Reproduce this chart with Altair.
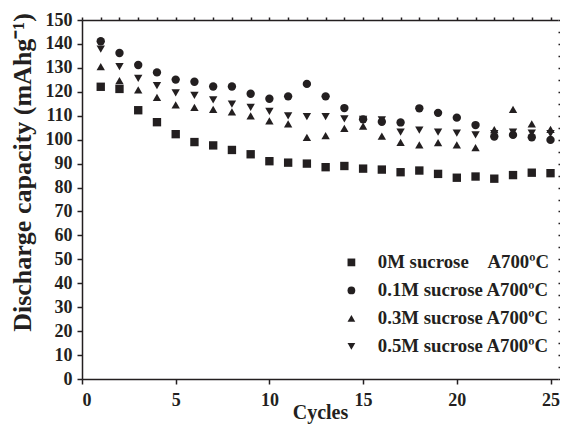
import altair as alt
import pandas as pd

cycles = list(range(1, 26))
series_names = [
    "0M sucrose \u00a0\u00a0\u00a0A700\u00baC",
    "0.1M sucrose A700\u00baC",
    "0.3M sucrose A700\u00baC",
    "0.5M sucrose A700\u00baC",
]
s0 = [122.1, 121.2, 112.3, 107.3, 102.3, 99.0, 97.6, 95.7, 93.9, 91.0, 90.4, 90.0, 88.5,
      89.0, 87.9, 87.5, 86.4, 87.1, 85.7, 84.1, 84.6, 83.7, 85.2, 86.2, 86.0]
s01 = [141.1, 136.2, 131.2, 128.1, 125.1, 124.2, 122.2, 122.2, 119.2, 117.1, 118.1, 123.3, 118.1,
       113.2, 108.5, 107.5, 107.2, 113.1, 111.2, 109.2, 106.1, 101.3, 102.0, 101.0, 99.9]
s03 = [130.5, 124.7, 120.8, 117.7, 114.5, 113.5, 112.7, 111.6, 109.9, 107.9, 106.6, 101.0, 101.7,
       104.7, 105.7, 101.5, 98.9, 97.8, 98.8, 97.8, 96.7, 104.2, 112.7, 106.6, 104.3]
s05 = [137.8, 130.5, 125.6, 122.6, 119.6, 118.5, 116.6, 114.8, 113.5, 111.8, 109.9, 109.6, 109.6,
       108.7, 108.5, 108.3, 103.2, 104.0, 103.1, 102.7, 102.0, 102.5, 103.2, 102.7, 102.5]
shapes = ["square", "circle", "triangle-up", "triangle-down"]

x_major = [0, 5, 10, 15, 20, 25]
x_minor = list(range(0, 26))
y_major = list(range(0, 151, 10))
y_minor = list(range(0, 151, 5))

rows = []
for name, vals in zip(series_names, [s0, s01, s03, s05]):
    for c, v in zip(cycles, vals):
        rows.append({"cycle": c, "cap": v, "series": name})
df = pd.DataFrame(rows)

INK = "#231f20"
FONT = "Liberation Serif"
LINE = dict(domainColor=INK, domainWidth=1.5, tickColor=INK, tickWidth=1.5, grid=False)

xscale = alt.Scale(domain=[0, 25.4], nice=False, zero=False)
yscale = alt.Scale(domain=[0, 150], nice=False)

points = alt.Chart(df).mark_point(filled=True, color=INK, opacity=1, size=70).encode(
    x=alt.X(
        "cycle:Q", scale=xscale,
        axis=alt.Axis(
            values=x_major, ticks=True, tickSize=5, domain=True,
            labelBaseline="alphabetic", labelPadding=21,
            title="Cycles", titleY=39, titleBaseline="alphabetic",
            **LINE,
        ),
    ),
    y=alt.Y(
        "cap:Q", scale=yscale,
        axis=alt.Axis(
            values=y_major, ticks=True, tickSize=5, domain=True, labelPadding=5,
            title="Discharge capacity (mAhg\u207b\u00b9)",
            titleX=-60, titleY=152, titleBaseline="middle", titleAngle=-90,
            **LINE,
        ),
    ),
    shape=alt.Shape(
        "series:N",
        scale=alt.Scale(domain=series_names, range=shapes),
        legend=alt.Legend(
            title=None, orient="none", legendX=260, legendY=233,
            padding=0, rowPadding=8, labelOffset=17,
            symbolSize=60, symbolFillColor=INK, symbolStrokeColor=INK,
            labelFont=FONT, labelFontSize=18.8, labelFontWeight="bold",
            labelColor=INK, labelLimit=400,
        ),
    ),
)

minor = alt.Chart(df).mark_point(opacity=0).encode(
    x=alt.X("cycle:Q", scale=xscale,
            axis=alt.Axis(values=x_minor, ticks=True, tickSize=3, labels=False, domain=False,
                          title=None, **LINE)),
    y=alt.Y("cap:Q", scale=yscale,
            axis=alt.Axis(values=y_minor, ticks=True, tickSize=3, labels=False, domain=False,
                          title=None, **LINE)),
)

top = alt.Chart(df).mark_point(opacity=0).encode(
    x=alt.X("cycle:Q", scale=xscale,
            axis=alt.Axis(orient="top", labels=False, ticks=False, title=None,
                          domain=True, **LINE)),
    y=alt.Y("cap:Q", scale=yscale, axis=None),
)

chart = alt.layer(points, minor, top).resolve_axis(x="independent", y="independent").properties(
    width=476, height=359,
    autosize=alt.AutoSizeParams(type="none"),
    padding={"left": 74, "top": 12, "right": 2, "bottom": 50},
).configure_view(stroke=None).configure_axis(
    labelColor=INK, titleColor=INK,
    labelFont=FONT, titleFont=FONT, labelFontSize=18, labelFontWeight="bold",
    titleFontSize=26, titleFontWeight="bold",
).configure_axisX(titleFontSize=20)

chart.save("out.html", embed_options={"renderer": "svg", "actions": False})
